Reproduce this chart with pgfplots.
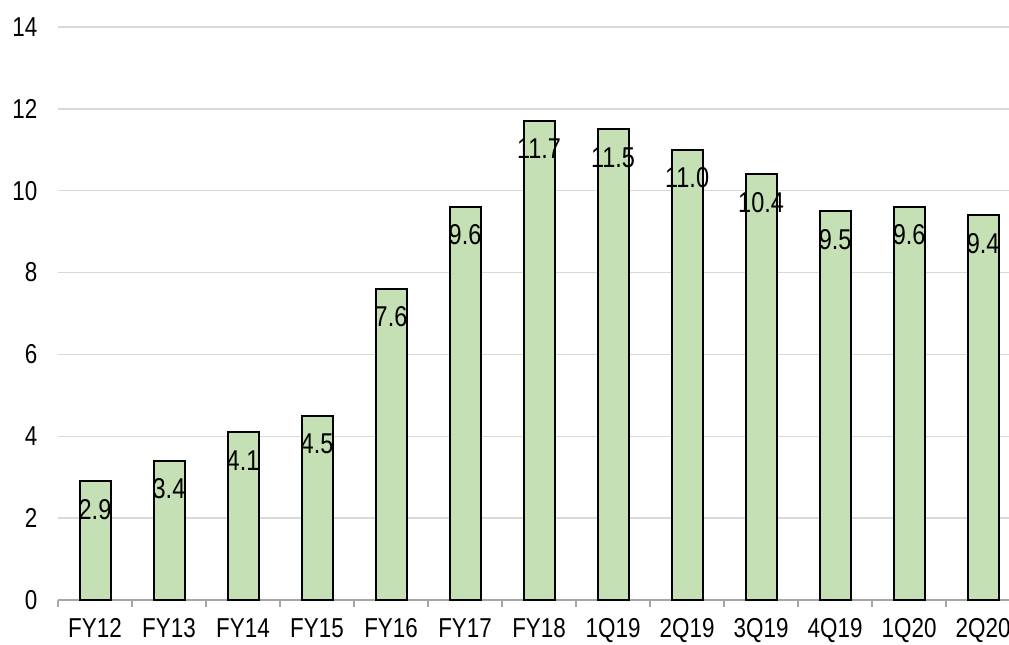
\documentclass[border=0pt]{standalone}
\usepackage{fontspec}
\setmainfont{Liberation Sans}[FakeStretch=0.82]
\usepackage{pgfplots}
\pgfplotsset{compat=1.18}
\definecolor{barfill}{HTML}{C5E0B4}
\definecolor{gridc}{HTML}{D9D9D9}
\definecolor{axisc}{HTML}{A6A6A6}
\begin{document}
\begin{tikzpicture}
\useasboundingbox (0,0) rectangle (756.75pt,483.75pt);
\clip (0,0) rectangle (756.75pt,483.75pt);
\begin{axis}[
  at={(43.5pt,33.75pt)}, anchor=south west,
  scale only axis, width=713.25pt, height=429.75pt,
  xmin=-0.5, xmax=12.35, ymin=0, ymax=14,
  ybar, bar width=23.25pt,
  xtick={0,...,12},
  xticklabels={FY12,FY13,FY14,FY15,FY16,FY17,FY18,1Q19,2Q19,3Q19,4Q19,1Q20,2Q20},
  minor xtick={-0.5,0.5,...,12.5},
  ytick={0,2,...,14},
  major tick length=0pt, minor tick length=5pt,
  tick align=outside,
  minor tick style={axisc, line width=1.1pt},
  axis x line*=bottom,
  axis y line*=left,
  x axis line style={axisc, line width=1.5pt, -},
  y axis line style={draw=none},
  ymajorgrids, grid style={gridc, line width=1.1pt},
  /pgf/number format/assume math mode=true,
  tick label style={font=\fontsize{20.5pt}{24pt}\selectfont, black},
  yticklabel style={xshift=-12pt},
  xticklabel style={yshift=-10.5pt},
  nodes near coords={\pgfmathprintnumber[fixed,fixed zerofill,precision=1,assume math mode=true]{\pgfplotspointmeta}},
  every node near coord/.append style={anchor=center, yshift=-21pt, font=\fontsize{21.5pt}{25pt}\selectfont, black},
  clip=false,
]
\addplot[fill=barfill, draw=black, line width=1.5pt] coordinates {
(0,2.9) (1,3.4) (2,4.1) (3,4.5) (4,7.6) (5,9.6) (6,11.7) (7,11.5) (8,11.0) (9,10.4) (10,9.5) (11,9.6) (12,9.4)};
\end{axis}
\end{tikzpicture}
\end{document}
